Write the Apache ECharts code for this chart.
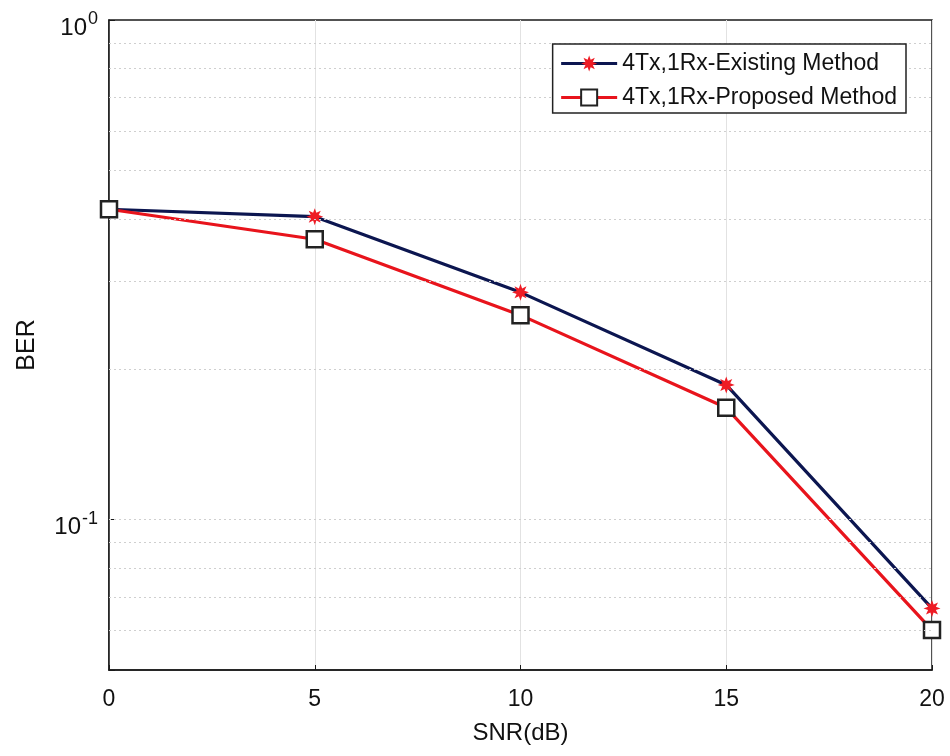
<!DOCTYPE html>
<html>
<head>
<meta charset="utf-8">
<script src="https://cdn.jsdelivr.net/npm/echarts@6/dist/echarts.min.js"></script>
<style>html,body{margin:0;padding:0;background:#fff}#c{width:950px;height:756px}</style>
</head>
<body>
<div id="c"></div>
<script>
const snr = [0, 5, 10, 15, 20];
const berExisting = [0.418, 0.404, 0.285, 0.186, 0.0664];
const berProposed = [0.418, 0.364, 0.2566, 0.1674, 0.0601];
const seriesNames = ['4Tx,1Rx-Existing Method', '4Tx,1Rx-Proposed Method'];
const xTicks = [0, 5, 10, 15, 20];
const yMajor = [0.1, 1];
const yMinorGrid = [0.9, 0.8, 0.7, 0.6, 0.5, 0.4, 0.3, 0.2, 0.09, 0.08, 0.07, 0.06];

function starPath(n, rIn) {
  let pts = [];
  for (let i = 0; i < 2 * n; i++) {
    const a = Math.PI * i / n - Math.PI / 2;
    const r = (i % 2 === 0) ? 1 : rIn;
    pts.push((50 + 50 * r * Math.cos(a)).toFixed(2) + ' ' + (50 + 50 * r * Math.sin(a)).toFixed(2));
  }
  return 'path://M' + pts.join(' L') + ' Z';
}
const star = starPath(8, 0.5);

const chart = echarts.init(document.getElementById('c'));
const font = 'Liberation Sans, Arial, sans-serif';
chart.setOption({
  animation: false,
  backgroundColor: '#fff',
  grid: { left: 109, right: 18, top: 20, bottom: 86, containLabel: false, outerBoundsMode: 'none', show: true, borderColor: '#1a1a1a', borderWidth: 1.5, backgroundColor: 'transparent' },
  legend: {
    orient: 'vertical', right: 44, top: 44, z: 20,
    itemWidth: 56, itemHeight: 20, itemGap: 11,
    padding: [8, 9, 4, 7],
    borderColor: '#222', borderWidth: 1.5, backgroundColor: '#fff',
    lineStyle: { type: 'solid', width: 3 },
    textStyle: { fontFamily: font, fontSize: 23, color: '#111' },
    data: seriesNames
  },
  xAxis: {
    type: 'value', min: 0, max: 20, interval: 5,
    name: 'SNR(dB)', nameLocation: 'middle', nameGap: 51,
    nameTextStyle: { fontFamily: font, fontSize: 24, color: '#111' },
    axisLine: { lineStyle: { color: '#1a1a1a', width: 1.5 } },
    axisTick: { inside: true, length: 5, lineStyle: { color: '#1a1a1a' } },
    axisLabel: { fontFamily: font, fontSize: 23, color: '#111', margin: 18 },
    splitLine: { show: true, lineStyle: { color: '#e2e2e2', width: 1 } }
  },
  yAxis: {
    type: 'log', logBase: 10, min: 0.05, max: 1,
    name: 'BER', nameLocation: 'middle', nameGap: 69,
    nameTextStyle: { fontFamily: font, fontSize: 25, color: '#111' },
    axisLine: { show: true, lineStyle: { color: '#1a1a1a', width: 1.5 } },
    axisTick: { show: true, inside: true, length: 6, lineStyle: { color: '#1a1a1a' } },
    splitLine: { show: false },
    axisLabel: {
      margin: 11,
      padding: [16, 0, 0, 0],
      formatter: function (v) {
        if (Math.abs(v - 1) < 1e-9) return '{b|10}{s|0}';
        if (Math.abs(v - 0.1) < 1e-9) return '{b|10}{s|-1}';
        return '';
      },
      rich: {
        b: { fontFamily: font, fontSize: 24, color: '#111', verticalAlign: 'bottom', lineHeight: 24, padding: [0, 1, 0, 0] },
        s: { fontFamily: font, fontSize: 18, color: '#111', verticalAlign: 'bottom', lineHeight: 18, padding: [0, 0, 12, 0] }
      }
    }
  },
  series: [
    {
      name: seriesNames[0], type: 'line',
      data: snr.map((x, i) => [x, berExisting[i]]),
      lineStyle: { color: '#0c1650', width: 3.2 },
      itemStyle: { color: '#ee1c25', borderWidth: 0 },
      symbol: star, symbolSize: 17, showSymbol: true, z: 3,
      markLine: {
        silent: true, symbol: 'none', label: { show: false },
        lineStyle: { color: '#cfcfcf', type: [2, 3], width: 1 },
        data: yMinorGrid.concat(yMajor.slice(0, 1)).map(v => ({ yAxis: v }))
      }
    },
    {
      name: seriesNames[1], type: 'line',
      data: snr.map((x, i) => [x, berProposed[i]]),
      lineStyle: { color: '#e8141c', width: 3.2 },
      itemStyle: { color: '#ffffff', borderColor: '#222', borderWidth: 2.5 },
      symbol: 'rect', symbolSize: 16, showSymbol: true, z: 4
    }
  ]
});
</script>
</body>
</html>
